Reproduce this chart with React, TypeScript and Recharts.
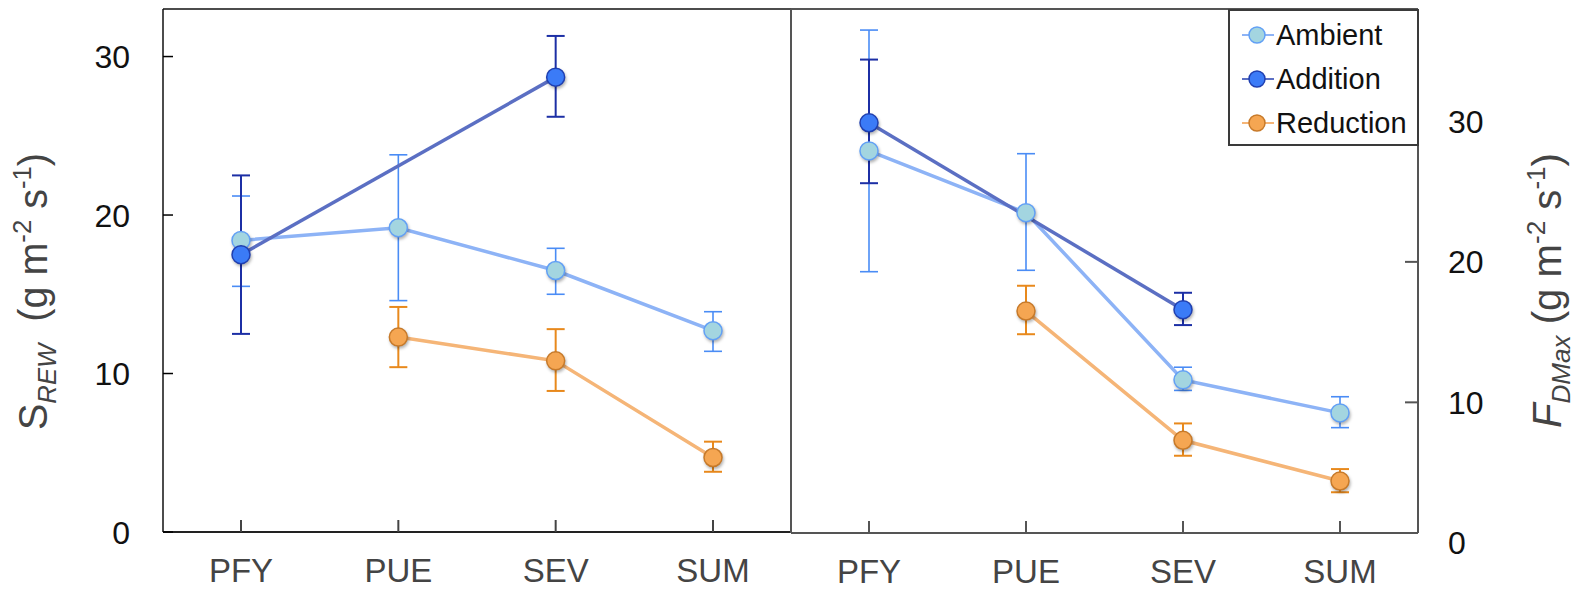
import React from 'react';
import { LineChart, Line, XAxis, YAxis, ErrorBar, Legend } from 'recharts';

const FONT = '"Liberation Sans", Arial, Helvetica, sans-serif';

const categories = ['PFY', 'PUE', 'SEV', 'SUM'];

// left panel: S_REW
const srewAmbient = [18.4, 19.2, 16.5, 12.7];
const srewAmbientLo = [15.5, 14.6, 15.0, 11.4];
const srewAmbientHi = [21.2, 23.8, 17.9, 13.9];
const srewAddition = [17.5, null, 28.7, null];
const srewAdditionLo = [12.5, null, 26.2, null];
const srewAdditionHi = [22.5, null, 31.3, null];
const srewReduction = [null, 12.3, 10.8, 4.7];
const srewReductionLo = [null, 10.4, 8.9, 3.8];
const srewReductionHi = [null, 14.2, 12.8, 5.7];

// right panel: F_DMax
const fdAmbient = [27.9, 23.5, 11.6, 9.25];
const fdAmbientLo = [19.3, 19.4, 10.85, 8.2];
const fdAmbientHi = [36.5, 27.7, 12.5, 10.4];
const fdAddition = [29.9, null, 16.6, null];
const fdAdditionLo = [25.6, null, 15.5, null];
const fdAdditionHi = [34.4, null, 17.8, null];
const fdReduction = [null, 16.5, 7.3, 4.4];
const fdReductionLo = [null, 14.85, 6.2, 3.6];
const fdReductionHi = [null, 18.3, 8.5, 5.25];

const yTicks = [0, 10, 20, 30];

const SERIES = [
  { key: 'amb', name: 'Ambient', line: '#8db3f6', fill: '#a3d5e0', stroke: '#62a0f5', err: '#4a8cf5', errWidth: 1.6 },
  { key: 'add', name: 'Addition', line: '#5b6fc3', fill: '#3b7bf7', stroke: '#1f3fb0', err: '#1c2fa5', errWidth: 2 },
  { key: 'red', name: 'Reduction', line: '#f5b577', fill: '#f5a652', stroke: '#c77a2a', err: '#e8891c', errWidth: 2 },
];

const err = (v: number | null, lo: number | null, hi: number | null) =>
  v == null || lo == null || hi == null ? undefined : [v - lo, hi - v];

const buildRows = (a: any[], aLo: any[], aHi: any[], d: any[], dLo: any[], dHi: any[], r: any[], rLo: any[], rHi: any[]) =>
  categories.map((cat, i) => ({
    cat,
    amb: a[i],
    ambErr: err(a[i], aLo[i], aHi[i]),
    add: d[i],
    addErr: err(d[i], dLo[i], dHi[i]),
    red: r[i],
    redErr: err(r[i], rLo[i], rHi[i]),
  }));

const leftRows = buildRows(srewAmbient, srewAmbientLo, srewAmbientHi, srewAddition, srewAdditionLo, srewAdditionHi, srewReduction, srewReductionLo, srewReductionHi);
const rightRows = buildRows(fdAmbient, fdAmbientLo, fdAmbientHi, fdAddition, fdAdditionLo, fdAdditionHi, fdReduction, fdReductionLo, fdReductionHi);

const BottomTick = (props: any) => {
  const { x, y, payload, color } = props;
  return (
    <g>
      <line x1={x} x2={x} y1={y} y2={y - 12} stroke={color} strokeWidth={2} />
      <text x={x} y={y + 50} textAnchor="middle" fontSize={33} fill="#444" fontFamily={FONT}>
        {payload.value}
      </text>
    </g>
  );
};

const LeftTick = (props: any) => {
  const { x, y, payload } = props;
  return (
    <g>
      <line x1={x} x2={x + 10} y1={y} y2={y} stroke="#000" strokeWidth={1.5} />
      <text x={x - 33} y={y + 11.5} textAnchor="end" fontSize={32} fill="#111" fontFamily={FONT}>
        {payload.value}
      </text>
    </g>
  );
};

const RightTick = (props: any) => {
  const { x, y, payload } = props;
  return (
    <g>
      {payload.value > 0 && <line x1={x} x2={x - 13} y1={y} y2={y} stroke="#555" strokeWidth={2} />}
      <text x={x + 30} y={y + 11.5} textAnchor="start" fontSize={32} fill="#111" fontFamily={FONT}>
        {payload.value}
      </text>
    </g>
  );
};

const AxisTitle = (props: any) => {
  const { viewBox, side } = props;
  const cx = side === 'left' ? viewBox.x + 47 : viewBox.x + 143;
  const cy = viewBox.y + (side === 'left' ? 421 : 419);
  return (
    <text
      x={cx}
      y={cy}
      transform={`rotate(-90 ${cx} ${cy})`}
      textAnchor="start"
      textLength={side === 'left' ? 277 : 275}
      lengthAdjust="spacingAndGlyphs"
      fontSize={40}
      fill="#444"
      fontFamily={FONT}
      style={{ whiteSpace: 'pre' }}
    >
      {side === 'left' ? (
        <>
          <tspan>S</tspan>
          <tspan fontSize={26} fontStyle="italic" dy={9}>REW</tspan>
          <tspan dy={-9}>{'  (g m'}</tspan>
        </>
      ) : (
        <>
          <tspan fontStyle="italic">F</tspan>
          <tspan fontSize={26} fontStyle="italic" dy={9}>DMax</tspan>
          <tspan dy={-9}>{' (g m'}</tspan>
        </>
      )}
      <tspan fontSize={26} dy={-16}>-2</tspan>
      <tspan dy={16}>{' s'}</tspan>
      <tspan fontSize={26} dy={-16}>-1</tspan>
      <tspan dy={16}>)</tspan>
    </text>
  );
};

const LegendBox = () => (
  <div
    style={{
      boxSizing: 'border-box',
      width: 191,
      height: 137,
      border: '2px solid #3a3a3a',
      background: '#fff',
      paddingTop: 2,
      fontFamily: FONT,
    }}
  >
    {SERIES.map((s) => (
      <div key={s.key} style={{ display: 'flex', alignItems: 'center', height: 44 }}>
        <svg width={34} height={20} style={{ marginLeft: 12 }}>
          <line x1={0} x2={32} y1={10} y2={10} stroke={s.line} strokeWidth={2} />
          <circle cx={15} cy={10} r={8} fill={s.fill} stroke={s.stroke} strokeWidth={1.5} />
        </svg>
        <span style={{ fontSize: 29, color: '#111', lineHeight: 1 }}>{s.name}</span>
      </div>
    ))}
  </div>
);

const makeDot = (s: any) => (p: any) => {
  if (p.cx == null || p.cy == null || p.value == null) return <g key={`${s.key}-${p.index}`} />;
  return (
    <circle
      key={`${s.key}-${p.index}`}
      cx={p.cx}
      cy={p.cy}
      r={9}
      fill={s.fill}
      stroke={s.stroke}
      strokeWidth={1.5}
      style={{ filter: 'drop-shadow(1px 2px 1.5px rgba(0,0,0,0.3))' }}
    />
  );
};

const renderLines = () =>
  SERIES.map((s) => (
    <Line
      key={s.key}
      type="linear"
      dataKey={s.key}
      name={s.name}
      stroke={s.line}
      strokeWidth={3.5}
      connectNulls
      isAnimationActive={false}
      dot={makeDot(s)}
      activeDot={false}
    >
      <ErrorBar dataKey={`${s.key}Err`} direction="y" width={9} strokeWidth={s.errWidth} stroke={s.err} isAnimationActive={false} />
    </Line>
  ));

const PAD = { left: 78, right: 78 };

const App = () => (
  <div style={{ position: 'absolute', left: 0, top: 0, width: 1581, height: 589, background: '#fff' }}>
    <div style={{ position: 'absolute', left: 0, top: 0 }}>
      <LineChart width={792} height={589} data={leftRows} margin={{ top: 8, right: 0, left: 0, bottom: 0 }}>
        <XAxis
          dataKey="cat"
          height={57}
          padding={PAD}
          interval={0}
          tickSize={0}
          tickMargin={0}
          tickLine={false}
          axisLine={{ stroke: '#222', strokeWidth: 2 }}
          tick={<BottomTick color="#444" />}
        />
        <XAxis xAxisId="top" orientation="top" dataKey="cat" height={1} padding={PAD} tick={false} tickLine={false} axisLine={{ stroke: '#111', strokeWidth: 1.5 }} />
        <YAxis
          width={163}
          domain={[0, 33]}
          ticks={yTicks}
          interval={0}
          tickSize={0}
          tickMargin={0}
          tickLine={false}
          axisLine={{ stroke: '#111', strokeWidth: 1.5 }}
          tick={<LeftTick />}
          label={<AxisTitle side="left" />}
        />
        <YAxis yAxisId="edge" orientation="right" width={1} domain={[0, 1]} tick={false} tickLine={false} axisLine={{ stroke: '#111', strokeWidth: 1.5 }} />
        {renderLines()}
      </LineChart>
    </div>
    <div style={{ position: 'absolute', left: 789, top: 0 }}>
      <LineChart width={792} height={589} data={rightRows} margin={{ top: 8, right: 0, left: 1, bottom: 0 }}>
        <XAxis
          dataKey="cat"
          height={56}
          padding={PAD}
          interval={0}
          tickSize={0}
          tickMargin={0}
          tickLine={false}
          axisLine={{ stroke: '#555', strokeWidth: 2 }}
          tick={<BottomTick color="#555" />}
        />
        <XAxis xAxisId="top" orientation="top" dataKey="cat" height={1} padding={PAD} tick={false} tickLine={false} axisLine={{ stroke: '#555', strokeWidth: 2 }} />
        <YAxis
          orientation="right"
          width={163}
          domain={[0.7, 38]}
          allowDataOverflow
          ticks={yTicks}
          interval={0}
          tickSize={0}
          tickMargin={0}
          tickLine={false}
          axisLine={{ stroke: '#555', strokeWidth: 2 }}
          tick={<RightTick />}
          label={<AxisTitle side="right" />}
        />
        <YAxis yAxisId="edge" orientation="left" width={1} domain={[0, 1]} tick={false} tickLine={false} axisLine={{ stroke: '#555', strokeWidth: 2 }} />
        {renderLines()}
        <Legend
          layout="vertical"
          align="center"
          verticalAlign="middle"
          content={<LegendBox />}
          wrapperStyle={{ top: 9, left: 439, width: 191, height: 137, right: 'auto', bottom: 'auto' }}
        />
      </LineChart>
    </div>
  </div>
);

export default App;
